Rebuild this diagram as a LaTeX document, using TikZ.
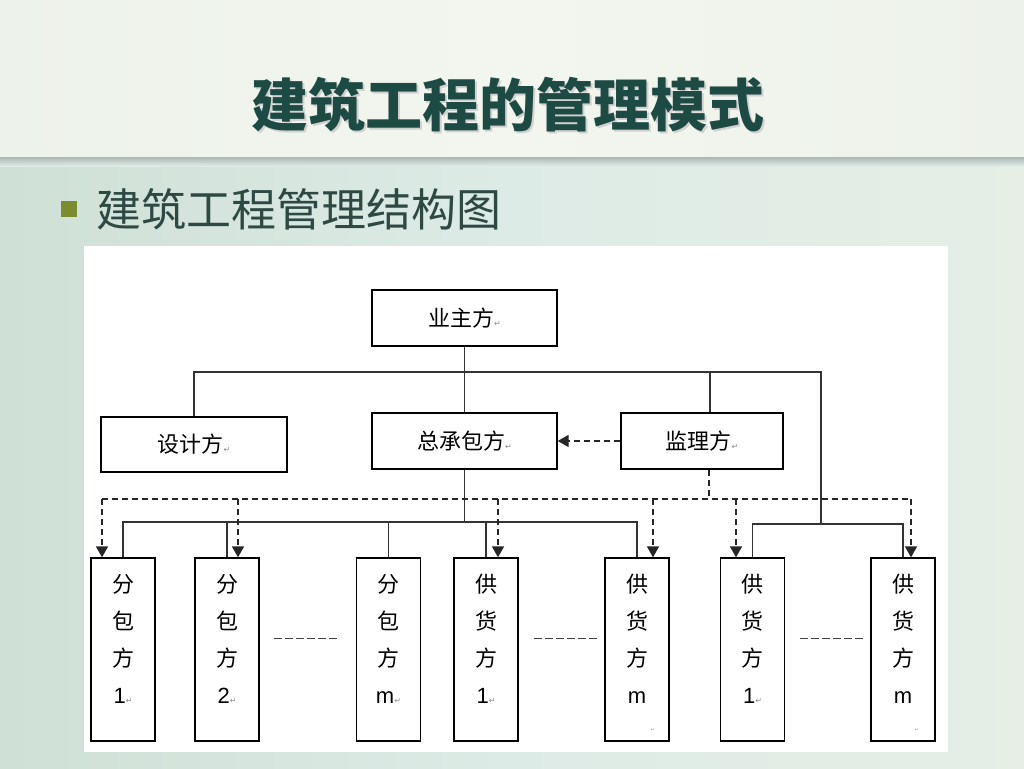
\documentclass[tikz,border=0pt]{standalone}
\usepackage{fontspec}
\newfontfamily\cjk{Noto Sans CJK SC}
\newfontfamily\arialf{Liberation Sans}
\newfontfamily\dejavu{DejaVu Sans}
\usetikzlibrary{arrows.meta,calc}
\definecolor{titlec}{HTML}{1E4A44}
\definecolor{subc}{HTML}{2E4944}
\definecolor{bulc}{HTML}{7B8B30}
\definecolor{bgT}{HTML}{EDF2EA}
\definecolor{bgTm}{HTML}{F3F6EF}
\definecolor{bgL}{HTML}{CFE0D6}
\definecolor{bgM}{HTML}{DDEBE6}
\definecolor{bgR}{HTML}{E6EEE6}
\newcommand\pmark{{\dejavu\fontsize{8}{8}\selectfont\color{black!45}↵}}
\newcommand\tinymark{{\dejavu\fontsize{5}{5}\selectfont\color{black!40}↵}}
\tikzset{
  hbox/.style={draw=black, line width=1.3pt, fill=white, inner sep=0pt,
    font=\cjk\fontsize{22}{22}\selectfont},
  vbox/.style={draw=black, line width=1.3pt, fill=white, inner sep=0pt,
    minimum width=64, minimum height=183},
  vtext/.style={align=center, inner sep=0pt, font=\cjk\fontsize{22}{37}\selectfont},
  conn/.style={line width=1.2pt, draw=black!80},
  dashc/.style={line width=1.6pt, draw=black!85, dash pattern=on 6pt off 4pt},
  arr/.style={dashc, -{Triangle[width=12pt,length=11pt]}},
  gapline/.style={line width=1pt, draw=black!75, dash pattern=on 8pt off 3pt},
  titlefont/.style={font=\cjk\bfseries\fontsize{57}{57}\selectfont, inner sep=0pt},
}
\begin{document}
\begin{tikzpicture}[x=1pt,y=-1pt]
\useasboundingbox (0,0) rectangle (1024,768);
% background
\shade[left color=bgL, right color=bgR, middle color=bgM] (0,157) rectangle (1024,768);
\shade[left color=bgT, right color=bgT, middle color=bgTm] (0,0) rectangle (1024,157);
\shade[top color=black!22!bgM, bottom color=bgM] (0,157) rectangle (1024,166);
% title
\node[titlefont, text=black!18] (titleshadow) at (510,107) {建筑工程的管理模式};
\node[titlefont, text=titlec] (title) at (508,105) {建筑工程的管理模式};
% subtitle
\node[fill=bulc, minimum size=16, inner sep=0pt] (bul) at (68.5,208.5) {};
\node[font=\cjk\fontsize{45}{45}\selectfont, text=subc, anchor=west, inner sep=0pt] (sub) at (96,209) {建筑工程管理结构图};
% panel
\fill[white] (84,246) rectangle (948,752);
% upper boxes
\node[hbox, minimum width=185, minimum height=56] (yz) at (464.5,318) {业主方\pmark};
\node[hbox, minimum width=186, minimum height=55] (sj) at (194,444.5) {设计方\pmark};
\node[hbox, minimum width=185, minimum height=56] (zcb) at (464.5,441) {总承包方\pmark};
\node[hbox, minimum width=162, minimum height=56] (jl) at (702,441) {监理方\pmark};
% lower boxes
\foreach \n/\x in {f1/123,f2/227,fm/388.5,g1/486,gm/637,h1/752.5,hm/903}
  \node[vbox] (\n) at (\x,649.5) {};
\node[vtext] (f1t) at ($(f1.center)+(0,-11)$) {分\\包\\方\\{\arialf 1}\pmark};
\node[vtext] (f2t) at ($(f2.center)+(0,-11)$) {分\\包\\方\\{\arialf 2}\pmark};
\node[vtext] (fmt) at ($(fm.center)+(0,-11)$) {分\\包\\方\\{\arialf m}\pmark};
\node[vtext] (g1t) at ($(g1.center)+(0,-11)$) {供\\货\\方\\{\arialf 1}\pmark};
\node[vtext] (gmt) at ($(gm.center)+(0,-11)$) {供\\货\\方\\{\arialf m}};
\node[vtext] (h1t) at ($(h1.center)+(0,-11)$) {供\\货\\方\\{\arialf 1}\pmark};
\node[vtext] (hmt) at ($(hm.center)+(0,-11)$) {供\\货\\方\\{\arialf m}};
\node[inner sep=0pt] (gmk) at ($(gm.center)+(16,80)$) {\tinymark};
\node[inner sep=0pt] (hmk) at ($(hm.center)+(14,80)$) {\tinymark};
% ellipsis marks
\coordinate (e1a) at (274,638); \coordinate (e1b) at (337,638);
\coordinate (e2a) at (534,638); \coordinate (e2b) at (598,638);
\coordinate (e3a) at (800,638); \coordinate (e3b) at (863,638);
\draw[gapline] (e1a) -- (e1b);
\draw[gapline] (e2a) -- (e2b);
\draw[gapline] (e3a) -- (e3b);
% solid connectors, upper
\coordinate (ubR) at (821,372);
\coordinate (hbR) at (821,524);
\draw[conn] (yz.south) -- (zcb.north);
\draw[conn] (sj.north) |- (ubR) -- (hbR);
\coordinate (jlN) at ($(jl.north)+(8,0)$);
\draw[conn] (jlN) -- (jlN |- ubR);
\draw[conn] (h1.north) |- (hbR) -| (hm.north);
% solid connectors, lower
\coordinate (lb) at (0,522);
\draw[conn] (zcb.south) -- (zcb.south |- lb);
\draw[conn] (f1.north) |- (lb -| gm.north) -- (gm.north);
\foreach \n in {f2,fm,g1} \draw[conn] (\n.north) -- (\n.north |- lb);
% dashed connectors
\draw[arr] (jl.west) -- (zcb.east);
\coordinate (jlS) at ($(jl.south)+(7,0)$);
\coordinate (db) at (0,499);
\draw[dashc] (jlS) -- (jlS |- db);
\coordinate (f1a) at ($(f1.north)+(-21,0)$);
\coordinate (f2a) at ($(f2.north)+(11,0)$);
\coordinate (g1a) at ($(g1.north)+(12,0)$);
\coordinate (gma) at ($(gm.north)+(16,0)$);
\coordinate (h1a) at ($(h1.north)+(-16.5,0)$);
\coordinate (hma) at ($(hm.north)+(8,0)$);
\draw[dashc] (f1a |- db) -- (hma |- db);
\foreach \a in {f1a,f2a,g1a,gma,h1a,hma} \draw[arr] (\a |- db) -- (\a);
\end{tikzpicture}
\end{document}
